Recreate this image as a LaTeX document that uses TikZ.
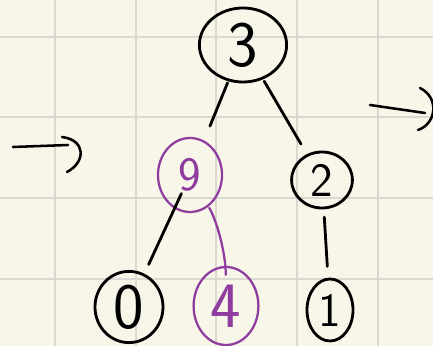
\documentclass[tikz,border=0pt]{standalone}
\usepackage{xcolor}
\usepackage{tikz}
\usetikzlibrary{shapes.geometric, calc}
\definecolor{paper}{HTML}{F8F5E9}
\definecolor{gridgray}{HTML}{DAD8D0}
\definecolor{inkpurple}{HTML}{8E3C9E}

\begin{document}
\begin{tikzpicture}[
            x=0.025cm, y=-0.025cm,
            blob/.style={
                draw=black,
                ellipse,
                inner sep=0pt,
                line width=2pt,
                font=\sffamily\fontsize{46}{46}\selectfont
            },
            smallblob/.style={blob, font=\sffamily\fontsize{34}{34}\selectfont},
            purpleblob/.style={draw=inkpurple, text=inkpurple, line width=1.6pt},
            edge/.style={line width=2pt, line cap=round},
            purpleedge/.style={line width=1.6pt, draw=inkpurple, line cap=round},
            pen/.style={line width=1.8pt, line cap=round, line join=round}
        ]

        \fill[paper] (0,0) rectangle (433,346);
        \useasboundingbox (0,0) rectangle (433,346);
        \foreach \gx in {55,136,216,297,378}
            \draw[gridgray, line width=0.9pt] (\gx,0) -- (\gx,346);
        \foreach \gy in {37,117,198,279}
            \draw[gridgray, line width=0.9pt] (0,\gy) -- (433,\gy);

        \node[blob, minimum width=2.18cm, minimum height=1.85cm]      (n3) at (243, 45)  {3};
        \node[smallblob, purpleblob, minimum width=1.6cm, minimum height=1.85cm] (n9) at (190, 175) {9};
        \node[smallblob, minimum width=1.52cm, minimum height=1.4cm]  (n2) at (322, 180) {2};
        \node[blob, minimum width=1.7cm, minimum height=1.78cm]       (n0) at (129, 307) {0};
        \node[blob, purpleblob, minimum width=1.62cm, minimum height=1.95cm] (n4) at (226, 306) {4};
        \node[smallblob, minimum width=1.15cm, minimum height=1.55cm] (n1) at (330, 310) {1};

        \draw[edge, shorten <=1.02cm, shorten >=1.32cm] (n3.center) -- (n9.center);
        \draw[edge, shorten <=1.05cm, shorten >=1.04cm] (n3.center) -- (n2.center);
        \draw[edge, shorten <=0.51cm, shorten >=1.17cm] (n9.center) -- (n0.center);
        \draw[purpleedge, shorten <=0.95cm, shorten >=0.78cm] (n9.center) to[bend left=15] (n4.center);
        \draw[edge, shorten <=0.93cm, shorten >=1.09cm] (n2.center) -- (n1.center);

        \coordinate (la) at (13, 147);
        \coordinate (lb) at (68, 145);
        \draw[pen] (la) -- (lb);
        \draw[pen] (62, 137) .. controls (86, 140) and (86, 162) .. (67, 172);

        \coordinate (ra) at (370, 105);
        \coordinate (rb) at (425, 113);
        \draw[pen] (ra) -- (rb);
        \draw[pen] (420, 88) .. controls (440, 98) and (436, 124) .. (418, 130);
        \end{tikzpicture}
\end{document}
